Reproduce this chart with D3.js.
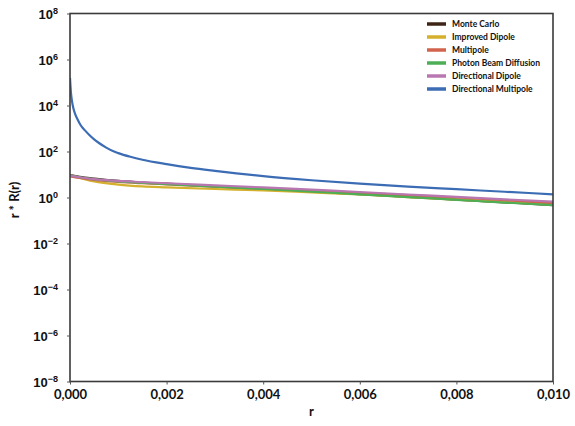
<!DOCTYPE html>
<html>
<head>
<meta charset="utf-8">
<script src="https://cdn.jsdelivr.net/npm/d3@7"></script>
<style>
  html, body { margin: 0; padding: 0; background: #fff; }
  svg { display: block; font-family: Lato, "DejaVu Sans", sans-serif; font-weight: bold; }
</style>
</head>
<body>
<svg id="chart" width="575" height="426"></svg>
<script>
// Radial profile r * R(r) for several subsurface scattering models (log10 values)
const rBlue = [0, 0.00001, 0.00002, 0.00004, 0.00007, 0.0001, 0.00015, 0.0002, 0.00025, 0.0003, 0.0004, 0.0005, 0.0006, 0.00075, 0.0009, 0.001, 0.00125, 0.0015, 0.002, 0.0025, 0.003, 0.004, 0.005, 0.006, 0.007, 0.008, 0.009, 0.010];
const directionalMultipole = [5.2, 4.85, 4.55, 4.2, 3.88, 3.67, 3.42, 3.22, 3.06, 2.94, 2.72, 2.53, 2.37, 2.17, 2.01, 1.93, 1.77, 1.64, 1.45, 1.29, 1.16, 0.93, 0.75, 0.6, 0.47, 0.36, 0.25, 0.14];

const rLow = [0, 0.0002, 0.0005, 0.001, 0.0015, 0.002, 0.003, 0.004, 0.005, 0.006, 0.007, 0.008, 0.009, 0.010];
const monteCarlo         = [0.98, 0.90, 0.82, 0.72, 0.65, 0.60, 0.48, 0.38, 0.26, 0.15, 0.03, -0.09, -0.21, -0.33];
const improvedDipole     = [0.95, 0.85, 0.70, 0.56, 0.48, 0.44, 0.37, 0.31, 0.22, 0.13, 0.02, -0.09, -0.20, -0.31];
const multipole          = [0.92, 0.85, 0.77, 0.68, 0.62, 0.57, 0.47, 0.38, 0.29, 0.20, 0.10, 0.00, -0.12, -0.25];
const photonBeam         = [0.96, 0.88, 0.80, 0.70, 0.64, 0.58, 0.47, 0.37, 0.25, 0.14, 0.02, -0.10, -0.22, -0.33];
const directionalDipole  = [0.95, 0.88, 0.80, 0.72, 0.67, 0.62, 0.53, 0.44, 0.34, 0.24, 0.13, 0.03, -0.08, -0.18];

const seriesNames  = ["Monte Carlo", "Improved Dipole", "Multipole", "Photon Beam Diffusion", "Directional Dipole", "Directional Multipole"];
const seriesColors = ["#3d2416", "#d4b02c", "#d2634c", "#4dae55", "#b877b0", "#3b6cb4"];

const xTicks = [0, 0.002, 0.004, 0.006, 0.008, 0.010];
const yExponents = [8, 6, 4, 2, 0, -2, -4, -6, -8];

const series = [
  { r: rLow, v: monteCarlo },
  { r: rLow, v: improvedDipole },
  { r: rLow, v: multipole },
  { r: rLow, v: photonBeam },
  { r: rLow, v: directionalDipole },
  { r: rBlue, v: directionalMultipole }
].map((s, i) => ({ name: seriesNames[i], color: seriesColors[i], pts: s.r.map((r, j) => [r, Math.pow(10, s.v[j])]) }));

const svg = d3.select("#chart");
const m = { left: 70, right: 553, top: 13.5, bottom: 381.5 };

const x = d3.scaleLinear().domain([0, 0.010]).range([m.left, m.right]);
const y = d3.scaleLog().domain([1e-8, 1e8]).range([m.bottom, m.top]);

// clip curves to the axes box
svg.append("defs").append("clipPath").attr("id", "clip")
  .append("rect").attr("x", m.left).attr("y", m.top).attr("width", m.right - m.left).attr("height", m.bottom - m.top);

const line = d3.line().x(d => x(d[0])).y(d => y(d[1])).curve(d3.curveMonotoneX);

svg.append("g").attr("clip-path", "url(#clip)")
  .selectAll("path").data(series).join("path")
  .attr("d", d => line(d.pts))
  .attr("fill", "none")
  .attr("stroke", d => d.color)
  .attr("stroke-width", 2.2)
  .attr("stroke-linejoin", "round");

// axes box
svg.append("rect")
  .attr("x", m.left).attr("y", m.top)
  .attr("width", m.right - m.left).attr("height", m.bottom - m.top)
  .attr("fill", "none").attr("stroke", "#3a3a3a").attr("stroke-width", 1.6);

// x axis
const xAxis = d3.axisBottom(x).tickValues(xTicks).tickSize(3).tickPadding(5)
  .tickFormat(d => d3.format(".3f")(d).replace(".", ","));
const gx = svg.append("g").attr("transform", `translate(0,${m.bottom})`).call(xAxis);
gx.select(".domain").remove();
gx.selectAll(".tick line").attr("stroke", "#555");
gx.selectAll(".tick text").attr("font-size", 13).attr("fill", "#111")
  .attr("font-family", "Lato, 'DejaVu Sans', sans-serif").attr("font-weight", "bold");

// y axis with superscript exponents
const yAxis = d3.axisLeft(y).tickValues(yExponents.map(e => Math.pow(10, e))).tickSize(3).tickPadding(4).tickFormat("");
const gy = svg.append("g").attr("transform", `translate(${m.left},0)`).call(yAxis);
gy.select(".domain").remove();
gy.selectAll(".tick line").attr("stroke", "#555");
gy.selectAll(".tick").each(function(d) {
  const e = Math.round(Math.log10(d));
  const t = d3.select(this).append("text")
    .attr("x", -12).attr("dy", "0.4em")
    .attr("text-anchor", "end")
    .attr("fill", "#111")
    .attr("font-size", 13);
  t.append("tspan").text("10");
  t.append("tspan").attr("dy", "-0.55em").attr("font-size", 9).text(e < 0 ? "\u2212" + (-e) : String(e));
});

// axis titles
svg.append("text").attr("x", (m.left + m.right) / 2).attr("y", 416)
  .attr("text-anchor", "middle").attr("font-size", 13).attr("fill", "#111").text("r");
svg.append("text").attr("transform", "translate(19,200) rotate(-90)")
  .attr("text-anchor", "middle").attr("font-size", 13).attr("fill", "#111").text("r * R(r)");

// legend
const lg = svg.append("g").attr("transform", "translate(427,24)");
const rows = lg.selectAll("g").data(series).join("g").attr("transform", (d, i) => `translate(0,${i * 13})`);
rows.append("line").attr("x1", 0).attr("x2", 19).attr("y1", 0).attr("y2", 0)
  .attr("stroke", d => d.color).attr("stroke-width", 3.5);
rows.append("text").attr("x", 25).attr("dy", "0.35em").attr("font-size", 8.5).attr("fill", "#111").text(d => d.name);
</script>
</body>
</html>
